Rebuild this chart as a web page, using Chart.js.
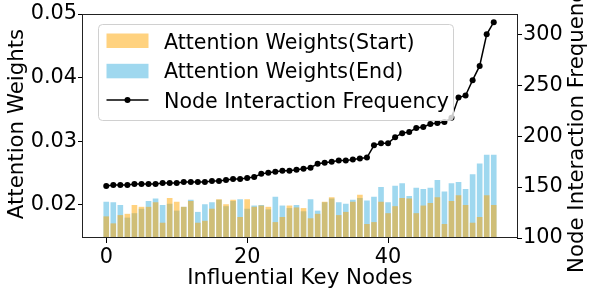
<!DOCTYPE html>
<html>
<head>
<meta charset="utf-8">
<script src="https://cdn.jsdelivr.net/npm/chart.js@4.4.1/dist/chart.umd.min.js"></script>
<style>
  html, body { margin: 0; padding: 0; background: #fff; }
  canvas { display: block; }
</style>
</head>
<body>
<canvas id="mainChart" width="594" height="295"></canvas>
<script>
// --- data ---
const nodes = [0,1,2,3,4,5,6,7,8,9,10,11,12,13,14,15,16,17,18,19,20,21,22,23,24,25,26,27,
  28,29,30,31,32,33,34,35,36,37,38,39,40,41,42,43,44,45,46,47,48,49,50,51,52,53,54,55];

const startWeights = [0.0182,0.0171,0.0184,0.0186,0.0200,0.0197,0.0197,0.0204,0.0172,0.0211,
  0.0205,0.0197,0.0206,0.0172,0.0175,0.0194,0.0209,0.0201,0.0208,0.0181,
  0.0209,0.0197,0.0199,0.0197,0.0173,0.0181,0.0199,0.0196,0.0195,0.0179,
  0.0186,0.0205,0.0212,0.0184,0.0189,0.0205,0.0216,0.0170,0.0173,0.0205,
  0.0187,0.0198,0.0211,0.0210,0.0187,0.0199,0.0203,0.0212,0.0170,0.0206,
  0.0215,0.0200,0.0172,0.0181,0.0215,0.0200];

const endWeights = [0.0205,0.0204,0.0200,0.0180,0.0187,0.0194,0.0206,0.0210,0.0200,0.0202,
  0.0191,0.0197,0.0208,0.0189,0.0201,0.0204,0.0208,0.0198,0.0206,0.0209,
  0.0194,0.0199,0.0200,0.0193,0.0213,0.0199,0.0195,0.0200,0.0190,0.0209,
  0.0191,0.0204,0.0210,0.0204,0.0202,0.0208,0.0211,0.0207,0.0213,0.0228,
  0.0204,0.0230,0.0234,0.0214,0.0227,0.0225,0.0227,0.0239,0.0221,0.0234,
  0.0236,0.0225,0.0248,0.0265,0.0279,0.0279];

const frequency = [151,152,152,152,153,153,153,153,154,154,154,155,155,155,155,156,156,157,158,158,
  159,160,163,164,165,166,166,167,168,169,173,174,175,176,176,177,178,179,191,193,
  193,199,203,204,208,209,212,213,214,218,238,240,255,269,300,312];

const xTicks = [0, 20, 40];
const leftTicks = [0.02, 0.03, 0.04, 0.05];
const rightTicks = [100, 150, 200, 250, 300];

const seriesNames = ['Attention Weights(Start)', 'Attention Weights(End)', 'Node Interaction Frequency'];

const ORANGE = 'rgba(255,165,0,0.5)';
const SKYBLUE = 'rgba(135,206,235,0.8)';
const FONT = '20.6px "DejaVu Sans"';
const TITLE_FONT = '21.3px "DejaVu Sans"';

// frame, axis titles and legend drawn by hand
const decorPlugin = {
  id: 'decor',
  afterDatasetsDraw(chart) {
    const ctx = chart.ctx;
    const a = chart.chartArea;
    ctx.save();

    // axes box
    ctx.strokeStyle = '#222';
    ctx.lineWidth = 1;
    ctx.strokeRect(Math.round(a.left) - 0.5, Math.round(a.top) + 0.5,
      Math.round(a.right - a.left) + 1, Math.round(a.bottom - a.top) - 1);

    // legend
    ctx.beginPath();
    ctx.roundRect(98.5, 24.5, 355, 96, 4);
    ctx.fillStyle = 'rgba(255,255,255,0.8)';
    ctx.fill();
    ctx.strokeStyle = '#d0d0d0';
    ctx.stroke();

    ctx.fillStyle = ORANGE;
    ctx.fillRect(106.5, 33.5, 42, 14.5);
    ctx.fillStyle = SKYBLUE;
    ctx.fillRect(106.5, 63.8, 42, 14.5);
    ctx.strokeStyle = '#000';
    ctx.lineWidth = 1.5;
    ctx.beginPath();
    ctx.moveTo(106.5, 100);
    ctx.lineTo(148.5, 100);
    ctx.stroke();
    ctx.fillStyle = '#000';
    ctx.beginPath();
    ctx.arc(127.5, 100, 3, 0, Math.PI * 2);
    ctx.fill();

    ctx.font = FONT;
    ctx.textBaseline = 'alphabetic';
    ctx.textAlign = 'left';
    ctx.fillText(seriesNames[0], 164, 48.5);
    ctx.fillText(seriesNames[1], 164, 78);
    ctx.fillText(seriesNames[2], 164, 107.5);

    // axis titles
    ctx.font = TITLE_FONT;
    ctx.textAlign = 'center';
    ctx.fillText('Influential Key Nodes', (a.left + a.right) / 2, 284);

    ctx.save();
    ctx.translate(22.5, 124);
    ctx.rotate(-Math.PI / 2);
    ctx.fillText('Attention Weights', 0, 0);
    ctx.restore();

    ctx.save();
    ctx.translate(583, 273);
    ctx.rotate(-Math.PI / 2);
    ctx.textAlign = 'left';
    ctx.fillText('Node Interaction Frequency', 0, 0);
    ctx.restore();

    ctx.restore();
  }
};

const tickGrid = { display: true, drawOnChartArea: false, drawTicks: true, tickLength: 5, color: '#000', offset: false };
const tickFont = { family: 'DejaVu Sans', size: 20.8 };

const ctxMain = document.getElementById('mainChart').getContext('2d');

new Chart(ctxMain, {
  type: 'bar',
  data: {
    datasets: [
      {
        type: 'line',
        label: seriesNames[2],
        data: nodes.map((n, i) => ({ x: n, y: frequency[i] })),
        yAxisID: 'y1',
        borderColor: '#000',
        borderWidth: 1.5,
        pointRadius: 3,
        pointBackgroundColor: '#000',
        pointBorderWidth: 0,
        tension: 0,
        order: 0
      },
      {
        label: seriesNames[0],
        data: nodes.map((n, i) => ({ x: n, y: startWeights[i] })),
        yAxisID: 'y',
        backgroundColor: ORANGE,
        borderWidth: 0,
        grouped: false,
        barPercentage: 0.8,
        categoryPercentage: 1.0,
        order: 1
      },
      {
        label: seriesNames[1],
        data: nodes.map((n, i) => ({ x: n, y: endWeights[i] })),
        yAxisID: 'y',
        backgroundColor: SKYBLUE,
        borderWidth: 0,
        grouped: false,
        barPercentage: 0.8,
        categoryPercentage: 1.0,
        order: 2
      }
    ]
  },
  options: {
    responsive: false,
    animation: false,
    layout: { padding: { top: 14, left: 0, right: 0, bottom: 0 } },
    plugins: {
      legend: { display: false },
      tooltip: { enabled: false }
    },
    scales: {
      x: {
        type: 'linear',
        offset: false,
        min: -3.3,
        max: 58.3,
        grid: tickGrid,
        border: { display: false },
        ticks: { font: tickFont, color: '#000', padding: 2, maxRotation: 0 },
        afterBuildTicks: s => { s.ticks = xTicks.map(v => ({ value: v })); },
        afterFit: s => { s.height = 57; }
      },
      y: {
        position: 'left',
        min: 0.0148,
        max: 0.0500,
        grid: tickGrid,
        border: { display: false },
        ticks: { font: tickFont, color: '#000', padding: 1, callback: v => v.toFixed(2) },
        afterBuildTicks: s => { s.ticks = leftTicks.map(v => ({ value: v })); },
        afterFit: s => { s.width = 83; }
      },
      y1: {
        position: 'right',
        min: 100,
        max: 320,
        grid: tickGrid,
        border: { display: false },
        ticks: { font: tickFont, color: '#000', padding: 1 },
        afterBuildTicks: s => { s.ticks = rightTicks.map(v => ({ value: v })); },
        afterFit: s => { s.width = 77; }
      }
    }
  },
  plugins: [decorPlugin]
});
</script>
</body>
</html>
